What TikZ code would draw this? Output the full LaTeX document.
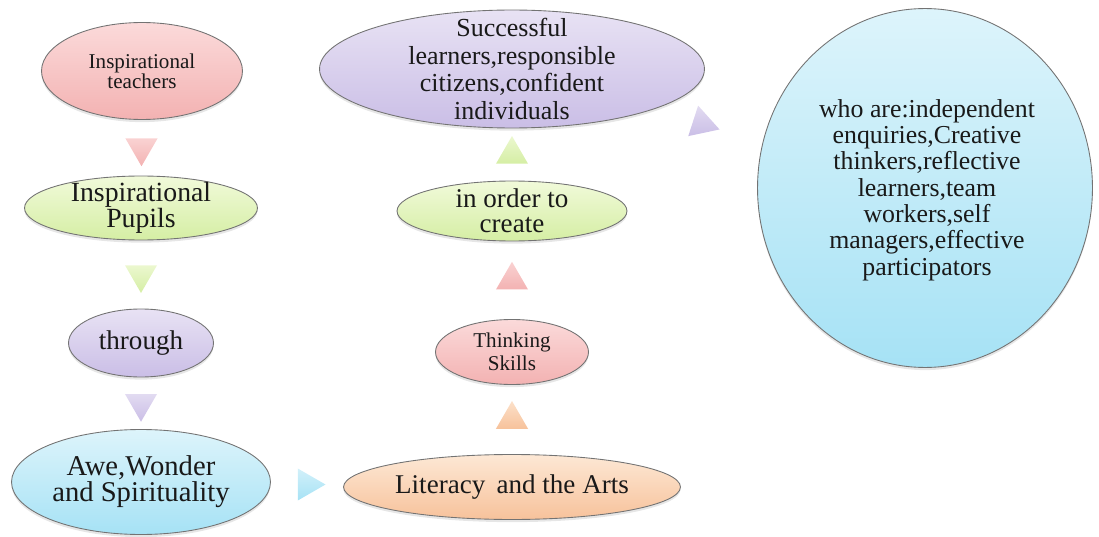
\documentclass[tikz,border=0pt]{standalone}
\usepackage{fontspec}
\setmainfont{Liberation Serif}
\usetikzlibrary{shapes.geometric,shadows,calc}

\definecolor{pinkA}{HTML}{FBDADA}\definecolor{pinkB}{HTML}{F3B2B2}
\definecolor{greenA}{HTML}{F1FADA}\definecolor{greenB}{HTML}{D5EEA4}
\definecolor{purpA}{HTML}{E8E2F4}\definecolor{purpB}{HTML}{CABEE6}
\definecolor{blueA}{HTML}{DDF4FB}\definecolor{blueB}{HTML}{A6E2F5}
\definecolor{orA}{HTML}{FDE8D5}\definecolor{orB}{HTML}{F7C29B}

\begin{document}
\begin{tikzpicture}
[x=0.02cm, y=-0.02cm,
 bubble/.style={ellipse, draw=black!55, line width=0.5pt, inner sep=0pt,
   top color=#1A, bottom color=#1B,
   drop shadow={shadow xshift=0pt, shadow yshift=-1.5pt, opacity=0.2}},
 tri/.style={regular polygon, regular polygon sides=3, minimum size=0.74cm,
   inner sep=0pt, top color=#1A!80!#1B, bottom color=#1B},
 big/.style={align=center, text=black!90, font=\fontsize{15.4}{14.5}\selectfont},
 mid/.style={align=center, text=black!90, font=\fontsize{14.8}{15.6}\selectfont},
 small/.style={align=center, text=black!90, font=\fontsize{12}{11.5}\selectfont}]
\useasboundingbox (0,0) rectangle (1099,537);

% left column
\node[bubble=pink, minimum width=4.02cm, minimum height=1.94cm] (teach) at (142,71) {};
\node[small] (teach-t) at (teach) {Inspirational\\teachers};
\node[bubble=green, minimum width=4.66cm, minimum height=1.28cm] (pupils) at (141,208) {};
\node[big, font=\fontsize{15.8}{14.5}\selectfont] (pupils-t) at (pupils) {Inspirational\\Pupils};
\node[bubble=purp, minimum width=2.9cm, minimum height=1.36cm] (through) at (141,343) {};
\node[big] (through-t) at (through) {through};
\node[bubble=blue, minimum width=5.18cm, minimum height=2.1cm] (awe) at (141,482) {};
\node[big, font=\fontsize{16.3}{14.8}\selectfont] (awe-t) at (awe) {Awe,Wonder\\and Spirituality};

% middle column
\node[bubble=or, minimum width=6.74cm, minimum height=1.3cm] (lit) at (512,487) {};
\node[big] (lit-t) at (lit) {Literacy\, and the Arts};
\node[bubble=pink, minimum width=3.06cm, minimum height=1.3cm] (think) at (512,352) {};
\node[small, font=\fontsize{12}{13}\selectfont] (think-t) at (think) {Thinking\\Skills};
\node[bubble=green, minimum width=4.6cm, minimum height=1.2cm] (order) at (512,211) {};
\node[big] (order-t) at (order) {in order to\\create};
\node[bubble=purp, minimum width=7.7cm, minimum height=2.36cm] (succ) at (512,69) {};
\node[mid] (succ-t) at (succ) {Successful\\learners,responsible\\citizens,confident\\individuals};

% right
\node[bubble=blue, minimum width=6.7cm, minimum height=7.18cm] (who) at (925,188) {};
\node[mid, font=\fontsize{14.7}{15}\selectfont] (who-t) at (927,190) {who are:independent\\enquiries,Creative\\thinkers,reflective\\learners,team\\workers,self\\managers,effective\\participators};

% arrow heads
\node[tri=pink, regular polygon rotate=180] (a1) at ($(teach.south)!0.5!(pupils.north)$) {};
\node[tri=green, regular polygon rotate=180] (a2) at ($(pupils.south)!0.5!(through.north)$) {};
\node[tri=purp, regular polygon rotate=180] (a3) at ($(through.south)!0.5!(awe.north)$) {};
\node[tri=blue, regular polygon rotate=-90] (a4) at ($(awe.east)!0.5!(lit.west)$) {};
\node[tri=or] (a5) at ($(lit.north)!0.5!(think.south)$) {};
\node[tri=pink] (a6) at ($(think.north)!0.5!(order.south)$) {};
\node[tri=green] (a7) at ($(order.north)!0.5!(succ.south)$) {};
\node[tri=purp, regular polygon rotate=-108] (a8) at ($(succ)!0.46!(who)$) {};
\end{tikzpicture}
\end{document}
